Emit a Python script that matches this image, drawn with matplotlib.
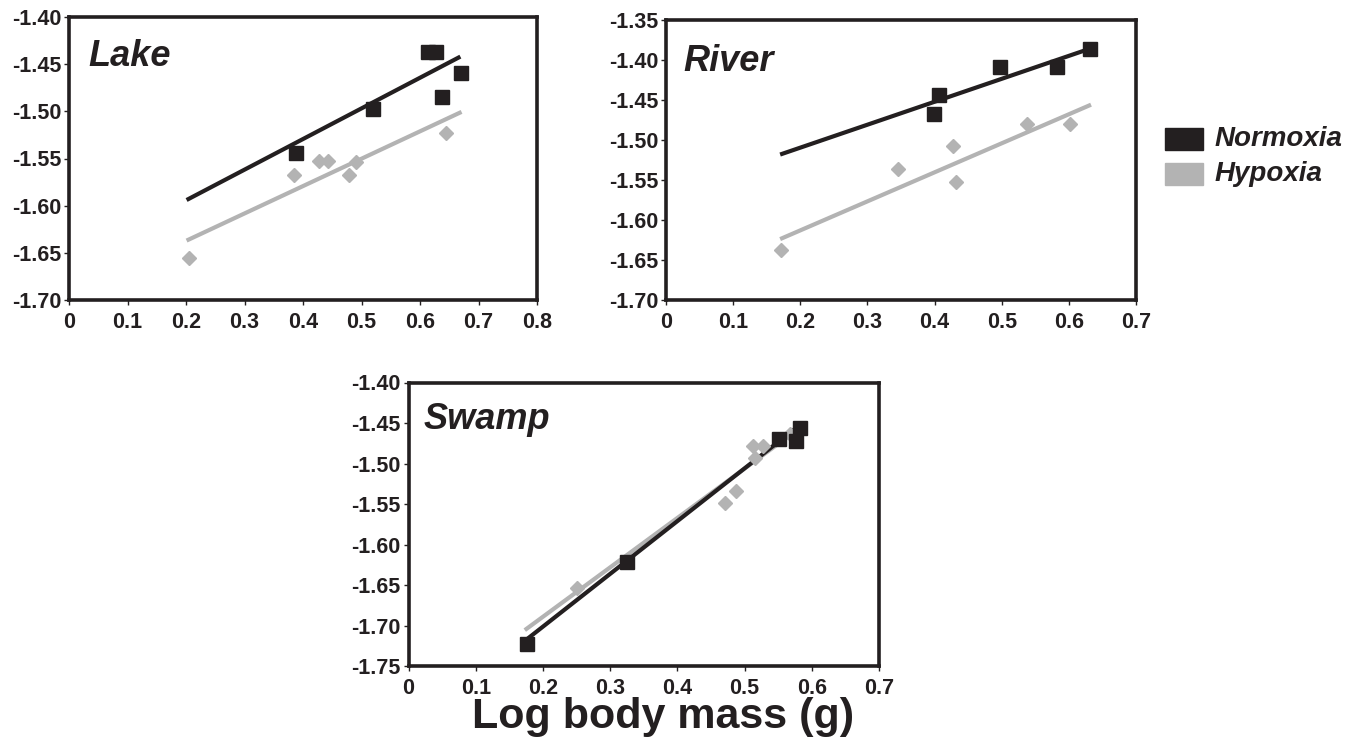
import matplotlib
matplotlib.use("Agg")
import matplotlib.pyplot as plt
from matplotlib.patches import Rectangle

plt.rcParams['font.family'] = ['Liberation Sans', 'DejaVu Sans']
plt.rcParams['font.weight'] = 'bold'

DARK = '#231f20'
GRAY = '#b3b3b3'

# ---------------- data ----------------
# Lake
lake_norm_x = [0.388, 0.519, 0.614, 0.628, 0.637, 0.670]
lake_norm_y = [-1.544, -1.498, -1.437, -1.437, -1.485, -1.459]
lake_hyp_x = [0.205, 0.384, 0.427, 0.443, 0.479, 0.490, 0.645]
lake_hyp_y = [-1.656, -1.568, -1.5525, -1.5525, -1.567, -1.554, -1.5225]
lake_norm_fit_x = [0.201, 0.669]
lake_norm_fit_y = [-1.594, -1.442]
lake_hyp_fit_x = [0.201, 0.671]
lake_hyp_fit_y = [-1.637, -1.5006]

# River
river_norm_x = [0.399, 0.406, 0.497, 0.583, 0.631]
river_norm_y = [-1.468, -1.444, -1.409, -1.409, -1.3865]
river_hyp_x = [0.171, 0.345, 0.428, 0.432, 0.537, 0.602]
river_hyp_y = [-1.638, -1.537, -1.508, -1.5526, -1.481, -1.481]
river_norm_fit_x = [0.170, 0.631]
river_norm_fit_y = [-1.5185, -1.3865]
river_hyp_fit_x = [0.170, 0.633]
river_hyp_fit_y = [-1.624, -1.4563]

# Swamp
swamp_norm_x = [0.1767, 0.3246, 0.551, 0.576, 0.582]
swamp_norm_y = [-1.723, -1.6216, -1.470, -1.4717, -1.456]
swamp_hyp_x = [0.250, 0.471, 0.487, 0.5125, 0.528, 0.515, 0.567]
swamp_hyp_y = [-1.654, -1.549, -1.5338, -1.4787, -1.4787, -1.4932, -1.464]
swamp_norm_fit_x = [0.173, 0.580]
swamp_norm_fit_y = [-1.719, -1.4539]
swamp_hyp_fit_x = [0.173, 0.569]
swamp_hyp_fit_y = [-1.7057, -1.4642]

# ticks
lake_xticks = [0, 0.1, 0.2, 0.3, 0.4, 0.5, 0.6, 0.7, 0.8]
lake_xlabels = ['0', '0.1', '0.2', '0.3', '0.4', '0.5', '0.6', '0.7', '0.8']
lake_yticks = [-1.40, -1.45, -1.50, -1.55, -1.60, -1.65, -1.70]
lake_ylabels = ['-1.40', '-1.45', '-1.50', '-1.55', '-1.60', '-1.65', '-1.70']

river_xticks = [0, 0.1, 0.2, 0.3, 0.4, 0.5, 0.6, 0.7]
river_xlabels = ['0', '0.1', '0.2', '0.3', '0.4', '0.5', '0.6', '0.7']
river_yticks = [-1.35, -1.40, -1.45, -1.50, -1.55, -1.60, -1.65, -1.70]
river_ylabels = ['-1.35', '-1.40', '-1.45', '-1.50', '-1.55', '-1.60', '-1.65', '-1.70']

swamp_xticks = [0, 0.1, 0.2, 0.3, 0.4, 0.5, 0.6, 0.7]
swamp_xlabels = ['0', '0.1', '0.2', '0.3', '0.4', '0.5', '0.6', '0.7']
swamp_yticks = [-1.40, -1.45, -1.50, -1.55, -1.60, -1.65, -1.70, -1.75]
swamp_ylabels = ['-1.40', '-1.45', '-1.50', '-1.55', '-1.60', '-1.65', '-1.70', '-1.75']

legend_labels = ['Normoxia', 'Hypoxia']

# ---------------- figure ----------------
W, H = 1362, 755
fig = plt.figure(figsize=(W / 100, H / 100), dpi=100)


def px_axes(left, top, right, bottom):
    return fig.add_axes([left / W, 1 - bottom / H, (right - left) / W, (bottom - top) / H])


def panel(ax, title, title_pos, nx, ny, hx, hy, nfx, nfy, hfx, hfy,
          xt, xl, yt, yl):
    ax.plot(hfx, hfy, color=GRAY, lw=3.0, solid_capstyle='butt', zorder=2)
    ax.plot(nfx, nfy, color=DARK, lw=3.0, solid_capstyle='butt', zorder=3)
    ax.plot(hx, hy, ls='none', marker='D', ms=7.5, color=GRAY, mec=GRAY, zorder=4)
    ax.plot(nx, ny, ls='none', marker='s', ms=9.5, color=DARK, mec=DARK, zorder=5)
    ax.set_xlim(xt[0], xt[-1])
    ax.set_ylim(yt[-1], yt[0])
    ax.set_xticks(xt)
    ax.set_xticklabels(xl)
    ax.set_yticks(yt)
    ax.set_yticklabels(yl)
    for s in ax.spines.values():
        s.set_linewidth(2.6)
        s.set_color(DARK)
    ax.tick_params(axis='both', direction='out', length=3.5, width=1.0,
                   color=DARK, labelcolor=DARK, labelsize=15.5)
    ax.tick_params(axis='x', pad=5.5)
    ax.tick_params(axis='y', pad=2)
    for lab in ax.get_xticklabels() + ax.get_yticklabels():
        lab.set_fontweight('bold')
    ax.text(title_pos[0], title_pos[1], title, transform=ax.transAxes,
            fontsize=26, fontweight='bold', fontstyle='italic', color=DARK,
            ha='left', va='baseline')


ax1 = px_axes(69, 17, 537, 300)
panel(ax1, 'Lake', (0.042, 0.827), lake_norm_x, lake_norm_y, lake_hyp_x, lake_hyp_y,
      lake_norm_fit_x, lake_norm_fit_y, lake_hyp_fit_x, lake_hyp_fit_y,
      lake_xticks, lake_xlabels, lake_yticks, lake_ylabels)

ax2 = px_axes(666, 19.5, 1136, 300)
panel(ax2, 'River', (0.036, 0.818), river_norm_x, river_norm_y, river_hyp_x, river_hyp_y,
      river_norm_fit_x, river_norm_fit_y, river_hyp_fit_x, river_hyp_fit_y,
      river_xticks, river_xlabels, river_yticks, river_ylabels)

ax3 = px_axes(408.5, 382.5, 879, 666)
panel(ax3, 'Swamp', (0.033, 0.836), swamp_norm_x, swamp_norm_y, swamp_hyp_x, swamp_hyp_y,
      swamp_norm_fit_x, swamp_norm_fit_y, swamp_hyp_fit_x, swamp_hyp_fit_y,
      swamp_xticks, swamp_xlabels, swamp_yticks, swamp_ylabels)

# legend (drawn in figure pixels)
for i, (lab, col) in enumerate(zip(legend_labels, [DARK, GRAY])):
    top = 128 + i * 35
    fig.patches.append(Rectangle((1165 / W, 1 - (top + 22) / H), 38 / W, 22 / H,
                                 transform=fig.transFigure, color=col, figure=fig))
    fig.text(1215 / W, 1 - (top + 18) / H, lab, fontsize=20, fontweight='bold',
             fontstyle='italic', color=DARK, ha='left', va='baseline')

fig.text(663 / W, 1 - 728 / H, 'Log body mass (g)', fontsize=31, fontweight='bold',
         color=DARK, ha='center', va='baseline')

fig.savefig('out.png', dpi=100)
